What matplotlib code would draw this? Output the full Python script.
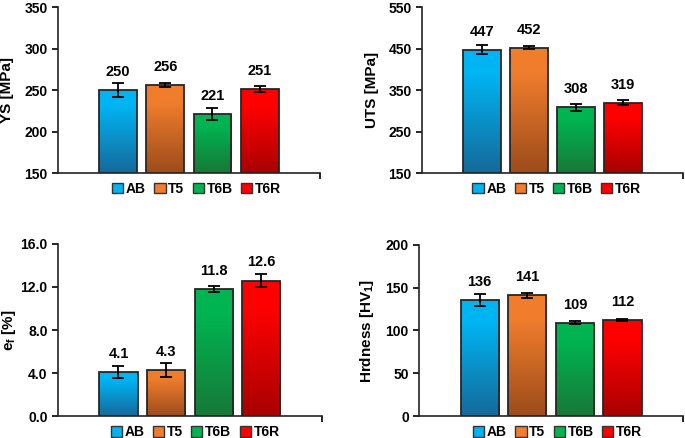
import numpy as np
import matplotlib
matplotlib.use("Agg")
import matplotlib.pyplot as plt
from matplotlib.colors import LinearSegmentedColormap
from matplotlib.patches import Patch

plt.rcParams['font.family'] = ['Liberation Sans', 'DejaVu Sans']
plt.rcParams['font.weight'] = 'bold'
plt.rcParams['mathtext.fontset'] = 'custom'
plt.rcParams['mathtext.rm'] = 'Liberation Sans:bold'
plt.rcParams['mathtext.it'] = 'Liberation Sans:bold'
plt.rcParams['mathtext.bf'] = 'Liberation Sans:bold'
plt.rcParams['mathtext.default'] = 'bf'

conditions = ['AB', 'T5', 'T6B', 'T6R']
top_colors = ['#00B4F2', '#F07D2C', '#00B451', '#FF0000']
bottom_colors = ['#16699A', '#9C4C1C', '#187838', '#A80000']

ys = [250, 256, 221, 251]
ys_err = [8, 2, 7, 4]
uts = [447, 452, 308, 319]
uts_err = [11, 4, 8, 6]
elong = [4.1, 4.3, 11.8, 12.6]
elong_err = [0.6, 0.65, 0.3, 0.6]
hard = [136, 141, 109, 112]
hard_err = [7, 3, 1.5, 1]

panels = [
    # values, errors, ylabel, ylim, yticks, format, axes rect, ylabel x, legend x
    (ys, ys_err, 'YS [MPa]', (150, 350), [150, 200, 250, 300, 350], '{:.0f}',
     [0.0847, 0.605, 0.382, 0.379], -0.168, 0.53),
    (uts, uts_err, 'UTS [MPa]', (150, 550), [150, 250, 350, 450, 550], '{:.0f}',
     [0.616, 0.605, 0.381, 0.379], -0.165, 0.517),
    (elong, elong_err, 'e$_f$ [%]', (0, 16), [0, 4, 8, 12, 16], '{:.1f}',
     [0.0847, 0.050, 0.385, 0.393], -0.152, 0.52),
    (hard, hard_err, 'Hrdness [HV$_1$]', (0, 200), [0, 50, 100, 150, 200], '{:.0f}',
     [0.612, 0.050, 0.385, 0.391], -0.163, 0.525),
]

fig = plt.figure(figsize=(6.85, 4.38), dpi=100)
x = np.arange(len(conditions))
xlim = (-1.27, 4.27)

for vals, errs, ylabel, ylim, yticks, fmt, rect, labx, legx in panels:
    ax = fig.add_axes(rect)
    bars = ax.bar(x, vals, width=0.8, color='none', edgecolor='#262626', linewidth=1.3, zorder=3)
    for b, c_top, c_bot in zip(bars, top_colors, bottom_colors):
        cmap = LinearSegmentedColormap.from_list('g', [(0, c_bot), (0.8, c_top), (1, c_top)])
        grad = np.linspace(0, 1, 256).reshape(-1, 1)
        x0 = b.get_x()
        x1 = x0 + b.get_width()
        im = ax.imshow(grad, cmap=cmap, origin='lower', aspect='auto',
                       extent=(x0, x1, ylim[0], b.get_height()), zorder=2)
        im.set_clip_path(b)
    ax.errorbar(x, vals, yerr=errs, fmt='none', ecolor='black', elinewidth=1.3,
                capsize=4, capthick=1.3, zorder=4)
    for xi, v in zip(x, vals):
        ax.annotate(fmt.format(v), (xi, v), xytext=(0, 8), textcoords='offset points',
                    ha='center', va='bottom', fontsize=10.5, fontweight='bold')
    ax.set_xlim(*xlim)
    ax.set_ylim(*ylim)
    ax.set_yticks(yticks)
    ax.set_yticklabels([fmt.format(t) for t in yticks], fontsize=10, fontweight='bold')
    ax.set_xticks([xlim[1]])
    ax.set_xticklabels([''])
    ax.tick_params(axis='y', direction='out', length=4, width=1.2)
    ax.tick_params(axis='x', direction='out', length=4, width=1.2)
    ax.set_ylabel(ylabel, fontsize=11, fontweight='bold')
    ax.yaxis.set_label_coords(labx, 0.5)
    for s in ['top', 'right']:
        ax.spines[s].set_visible(False)
    for s in ['left', 'bottom']:
        ax.spines[s].set_linewidth(1.2)
        ax.spines[s].set_color('#222222')
    handles = [Patch(facecolor=c, edgecolor='#333333', linewidth=1) for c in top_colors]
    ax.legend(handles, conditions, loc='center', bbox_to_anchor=(legx, -0.095), ncol=4,
              frameon=False, fontsize=10, handlelength=0.8, handleheight=0.8,
              handletextpad=0.2, columnspacing=0.6, borderaxespad=0, borderpad=0)

fig.savefig('out.png', dpi=100)
